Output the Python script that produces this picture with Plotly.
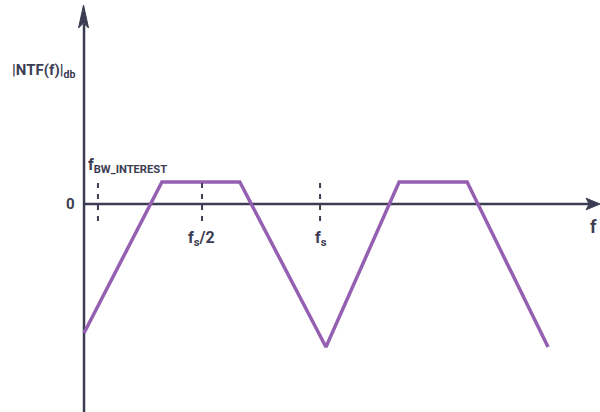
import plotly.graph_objects as go

# Noise transfer function magnitude sketch (frequency in units of fs, magnitude in arbitrary dB units)
ntf_freq = [0.0, 0.33, 0.66, 1.025, 1.335, 1.623, 1.966]
ntf_db = [-12.9, 2.2, 2.2, -14.3, 2.2, 2.2, -14.3]

# Reference frequency markers (dashed)
marker_freq = [0.059, 0.5, 1.0]
marker_labels = ["f<sub>BW_INTEREST</sub>", "f<sub>s</sub>/2", "f<sub>s</sub>"]

AXIS = "#3c3d52"
PURPLE = "#9660b2"
FONT = "Roboto"

X_RANGE = [-0.356, 2.186]
Y_RANGE = [-20.8, 20.4]
PX = 1 / 236  # one horizontal pixel in frequency units

fig = go.Figure()

fig.add_trace(go.Scatter(
    x=ntf_freq, y=ntf_db, mode="lines",
    line=dict(color=PURPLE, width=3.5),
    hoverinfo="skip", showlegend=False,
))

for f in marker_freq:
    fig.add_trace(go.Scatter(
        x=[f, f], y=[2.1, -1.9], mode="lines",
        line=dict(color=AXIS, width=2, dash="5px,6px"),
        hoverinfo="skip", showlegend=False,
    ))

# Axes with arrowheads
fig.add_shape(type="line", xref="x", yref="y", x0=0, x1=2.14,
              y0=0, y1=0, line=dict(color=AXIS, width=2.5), layer="below")
fig.add_shape(type="line", xref="x", yref="y", x0=0, x1=0,
              y0=Y_RANGE[0], y1=18.0, line=dict(color=AXIS, width=2.5), layer="below")
# y arrowhead
fig.add_shape(type="path", xref="x", yref="y",
              path=f"M {-0.5*PX},19.9 L {-5.5*PX},17.6 L {-0.5*PX},18.1 L {4.5*PX},17.6 Z",
              fillcolor=AXIS, line=dict(color=AXIS, width=1))
# x arrowhead
fig.add_shape(type="path", xref="x", yref="y",
              path=f"M {516*PX},0 L {502*PX},0.58 L {505*PX},0 L {502*PX},-0.58 Z",
              fillcolor=AXIS, line=dict(color=AXIS, width=1))

# Labels
fig.add_annotation(x=0.0, y=13.3, xref="x", yref="y", text="|NTF(f)|<sub>db</sub>",
                   showarrow=False, xanchor="right", xshift=-7,
                   font=dict(family=FONT, size=15, color=AXIS, weight="bold"))
fig.add_annotation(x=0.0, y=0, xref="x", yref="y", text="0",
                   showarrow=False, xanchor="right", xshift=-7,
                   font=dict(family=FONT, size=15, color=AXIS, weight="bold"))
fig.add_annotation(x=marker_freq[0], y=3.9, xref="x", yref="y", text=marker_labels[0],
                   showarrow=False, xanchor="left", xshift=-12,
                   font=dict(family=FONT, size=16, color=AXIS, weight="bold"))
fig.add_annotation(x=marker_freq[1], y=-3.4, xref="x", yref="y", text=marker_labels[1],
                   showarrow=False, xanchor="center", xshift=-1,
                   font=dict(family=FONT, size=16, color=AXIS, weight="bold"))
fig.add_annotation(x=marker_freq[2], y=-3.4, xref="x", yref="y", text=marker_labels[2],
                   showarrow=False, xanchor="center", xshift=1,
                   font=dict(family=FONT, size=16, color=AXIS, weight="bold"))
fig.add_annotation(x=X_RANGE[1], y=-2.2, xref="x", yref="y", text="f",
                   showarrow=False, xanchor="right", xshift=-1,
                   font=dict(family=FONT, size=18, color=AXIS, weight="bold"))

fig.update_xaxes(range=X_RANGE, visible=False, fixedrange=True)
fig.update_yaxes(range=Y_RANGE, visible=False, fixedrange=True)
fig.update_layout(
    width=600, height=412,
    margin=dict(l=0, r=0, t=0, b=0),
    paper_bgcolor="white", plot_bgcolor="white",
)

fig.write_html("out.html")
